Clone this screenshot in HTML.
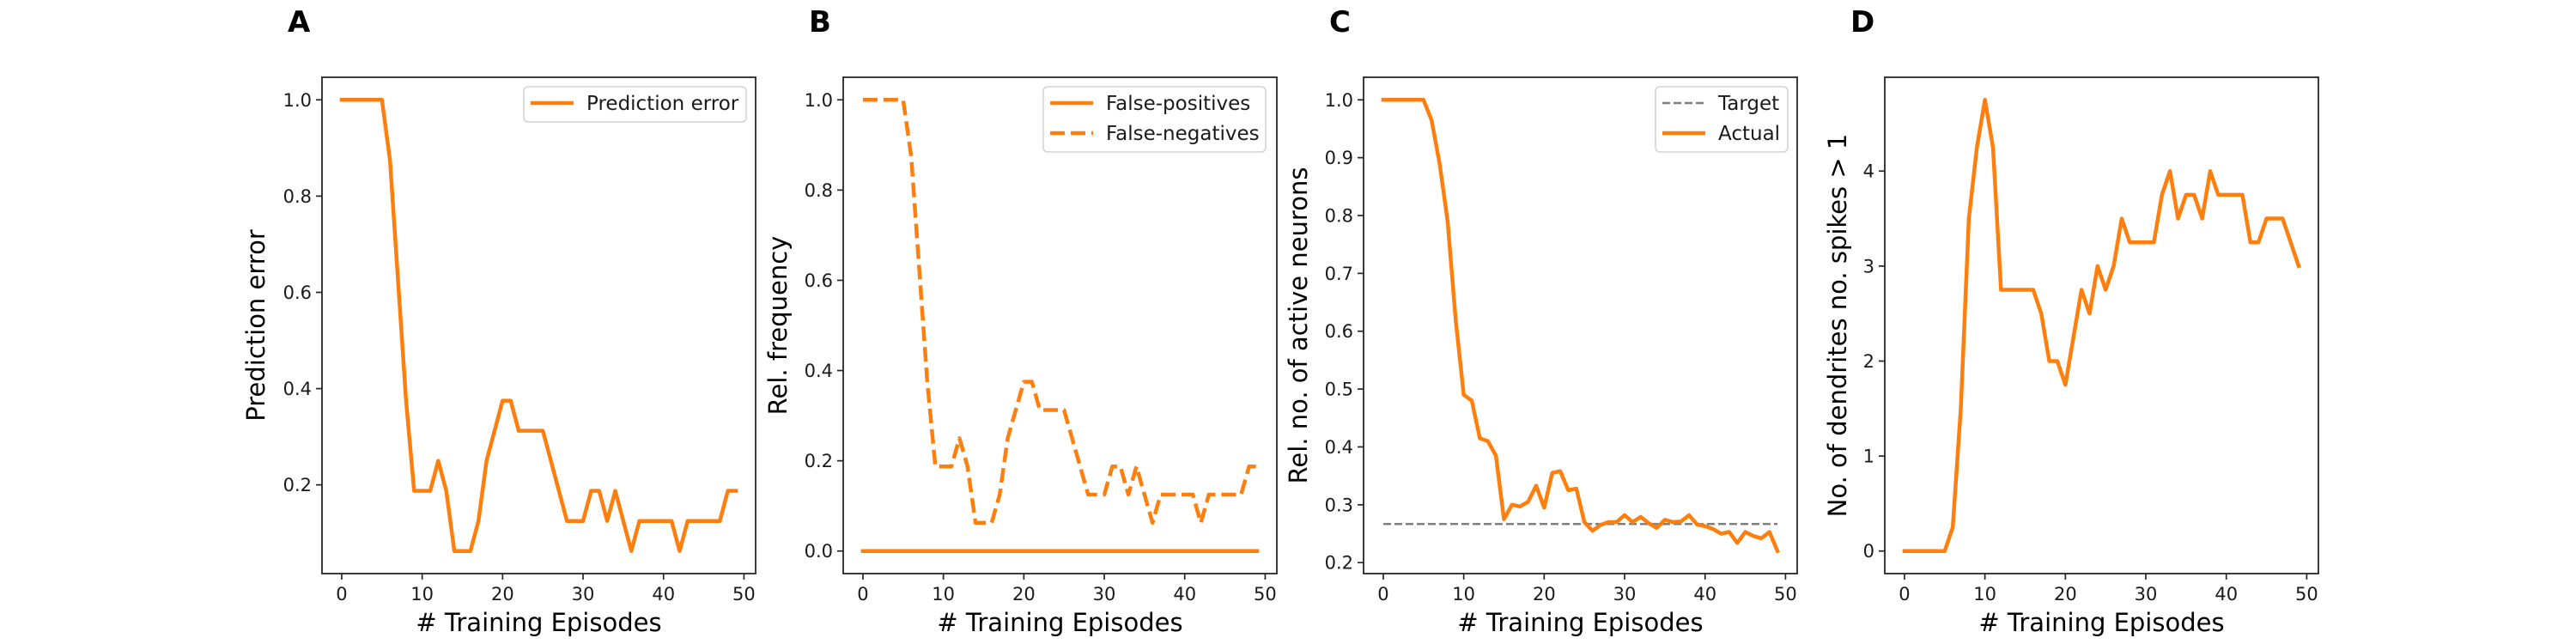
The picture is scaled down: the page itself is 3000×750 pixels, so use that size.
<!DOCTYPE html>
<html><head><meta charset="utf-8">
<style>
html,body{margin:0;padding:0;background:#fff;}
svg{display:block;font-family:"DejaVu Sans","Liberation Sans",sans-serif;}
</style></head>
<body>
<svg id="fig" width="3000" height="750" viewBox="0 0 3000 750" xmlns="http://www.w3.org/2000/svg"></svg>
<script>
// ---- data ----
const episodes = Array.from({length:50},(_, i)=>i);
const predictionError = [1,1,1,1,1,1,0.875,0.625,0.375,0.1875,0.1875,0.1875,0.25,0.1875,0.0625,0.0625,0.0625,0.125,0.25,0.3125,0.375,0.375,0.3125,0.3125,0.3125,0.3125,0.25,0.1875,0.125,0.125,0.125,0.1875,0.1875,0.125,0.1875,0.125,0.0625,0.125,0.125,0.125,0.125,0.125,0.0625,0.125,0.125,0.125,0.125,0.125,0.1875,0.1875];
const falsePositives = new Array(50).fill(0);
const falseNegatives = [1,1,1,1,1,1,0.875,0.625,0.375,0.1875,0.1875,0.1875,0.25,0.1875,0.0625,0.0625,0.0625,0.125,0.25,0.3125,0.375,0.375,0.3125,0.3125,0.3125,0.3125,0.25,0.1875,0.125,0.125,0.125,0.1875,0.1875,0.125,0.1875,0.125,0.0625,0.125,0.125,0.125,0.125,0.125,0.0625,0.125,0.125,0.125,0.125,0.125,0.1875,0.1875];
const activeActual = [1,1,1,1,1,1,0.965,0.89,0.79,0.62,0.49,0.48,0.415,0.41,0.385,0.275,0.3,0.297,0.305,0.333,0.295,0.355,0.358,0.325,0.328,0.27,0.255,0.265,0.27,0.27,0.282,0.27,0.279,0.268,0.26,0.274,0.27,0.271,0.282,0.266,0.263,0.258,0.25,0.253,0.234,0.253,0.246,0.242,0.253,0.22];
const activeTarget = [0.2667,0.2667];
const targetX = [0,49];
const dendriteSpikes = [0,0,0,0,0,0,0.25,1.5,3.5,4.25,4.75,4.25,2.75,2.75,2.75,2.75,2.75,2.5,2,2,1.75,2.25,2.75,2.5,3,2.75,3,3.5,3.25,3.25,3.25,3.25,3.75,4,3.5,3.75,3.75,3.5,4,3.75,3.75,3.75,3.75,3.25,3.25,3.5,3.5,3.5,3.25,3];
const xTicks = [0,10,20,30,40,50];
const yTicksA = [0.2,0.4,0.6,0.8,1.0];
const yTicksB = [0.0,0.2,0.4,0.6,0.8,1.0];
const yTicksC = [0.2,0.3,0.4,0.5,0.6,0.7,0.8,0.9,1.0];
const yTicksD = [0,1,2,3,4];

const NS="http://www.w3.org/2000/svg";
const svg=document.getElementById('fig');
const ORANGE="#ff7f0e";
function mk(tag,attrs,parent){const e=document.createElementNS(NS,tag);for(const k in attrs)e.setAttribute(k,attrs[k]);(parent||svg).appendChild(e);return e;}

function panel(opt){
  const L=opt.left,R=opt.left+505,T=90,B=668;
  const g=mk('g',{});
  
  
  const xmin=-2.45,xmax=51.45;
  const sx=v=>L+(v-xmin)/(xmax-xmin)*(R-L);
  const sy=v=>B-(v-opt.ymin)/(opt.ymax-opt.ymin)*(B-T);
  // series
  opt.series.forEach(s=>{
    const xs=s.x||episodes;
    const d=s.y.map((v,i)=>(i?'L':'M')+sx(xs[i]).toFixed(2)+' '+sy(v).toFixed(2)).join(' ');
    const p=mk('path',{d:d,fill:'none',stroke:s.color,'stroke-width':s.w,'stroke-linejoin':'round','stroke-linecap':s.dash?'butt':'square'},g);
    if(s.dash)p.setAttribute('stroke-dasharray',s.dash);
    
    
  });
  // frame
  const fr=mk('rect',{x:L,y:T,width:R-L,height:B-T,fill:'none',stroke:'#262626','stroke-width':1.8},g);
  
  
  // x ticks
  xTicks.forEach(t=>{
    const x=sx(t);
    mk('line',{x1:x,y1:B,x2:x,y2:B+7,stroke:'#262626','stroke-width':1.7},g);
    const tx=mk('text',{x:x,y:699,'text-anchor':'middle','font-size':21,fill:'#1a1a1a'},g);
    tx.textContent=t;
    
    
  });
  opt.yticks.forEach(t=>{
    const y=sy(t);
    mk('line',{x1:L-7,y1:y,x2:L,y2:y,stroke:'#262626','stroke-width':1.7},g);
    const tx=mk('text',{x:L-12,y:y+7.5,'text-anchor':'end','font-size':21,fill:'#1a1a1a'},g);
    tx.textContent=opt.fmt(t);
    
    
  });
  const xl=mk('text',{x:(L+R)/2,y:735,'text-anchor':'middle','font-size':29,fill:'#000'},g);
  xl.textContent='# Training Episodes';
  
  
  const yl=mk('text',{x:0,y:0,'text-anchor':'middle','font-size':29,fill:'#000',transform:`translate(${opt.ylx},${(T+B)/2}) rotate(-90)`},g);
  yl.textContent=opt.ylabel;
  
  
  const pl=mk('text',{x:L-40,y:37,'font-size':34,'font-weight':'bold',fill:'#000'},g);
  pl.textContent=opt.letter;
  
  
  // legend
  if(opt.legend){
    const lg=opt.legend;
    const lgG=mk('g',{},g);
    
    
    mk('rect',{x:lg.x,y:101,width:lg.w,height:lg.entries.length*35+6,rx:5,fill:'#fff',stroke:'#d4d4d4','stroke-width':1.6},lgG);
    lg.entries.forEach((e,i)=>{
      const y=120+i*35;
      const ln=mk('line',{x1:lg.x+8,y1:y,x2:lg.x+58,y2:y,stroke:e.color,'stroke-width':e.w},lgG);
      if(e.dash)ln.setAttribute('stroke-dasharray',e.dash);
      const t=mk('text',{x:lg.x+73,y:y+8,'font-size':23,fill:'#1a1a1a'},lgG);
      t.textContent=e.label;
      
      
    });
  }
}
const f1=v=>v.toFixed(1);
panel({letter:'A',left:375,ymin:0.015625,ymax:1.046875,yticks:yTicksA,fmt:f1,ylabel:'Prediction error',ylx:308,
  series:[{y:predictionError,color:ORANGE,w:4.5,name:'prediction-error-line'}],
  legend:{x:610,w:259,entries:[{label:'Prediction error',color:ORANGE,w:4.5}]}});
panel({letter:'B',left:982,ymin:-0.05,ymax:1.05,yticks:yTicksB,fmt:f1,ylabel:'Rel. frequency',ylx:916,
  series:[{y:falsePositives,color:ORANGE,w:4.5,name:'false-positives-line'},{y:falseNegatives,color:ORANGE,w:4.5,dash:'17 7',name:'false-negatives-line'}],
  legend:{x:1215,w:259,entries:[{label:'False-positives',color:ORANGE,w:4.5},{label:'False-negatives',color:ORANGE,w:4.5,dash:'17 7'}]}});
panel({letter:'C',left:1588,ymin:0.181,ymax:1.039,yticks:yTicksC,fmt:f1,ylabel:'Rel. no. of active neurons',ylx:1522,
  series:[{x:targetX,y:activeTarget,color:'#7f7f7f',w:2.5,dash:'9 4',name:'target-line'},{y:activeActual,color:ORANGE,w:4.5,name:'actual-line'}],
  legend:{x:1928,w:154,entries:[{label:'Target',color:'#7f7f7f',w:2.5,dash:'9 4'},{label:'Actual',color:ORANGE,w:4.5}]}});
panel({letter:'D',left:2195,ymin:-0.2375,ymax:4.9875,yticks:yTicksD,fmt:v=>String(v),ylabel:'No. of dendrites no. spikes > 1',ylx:2150,
  series:[{y:dendriteSpikes,color:ORANGE,w:4.5,name:'dendrite-spikes-line'}]});
</script>
</body></html>
